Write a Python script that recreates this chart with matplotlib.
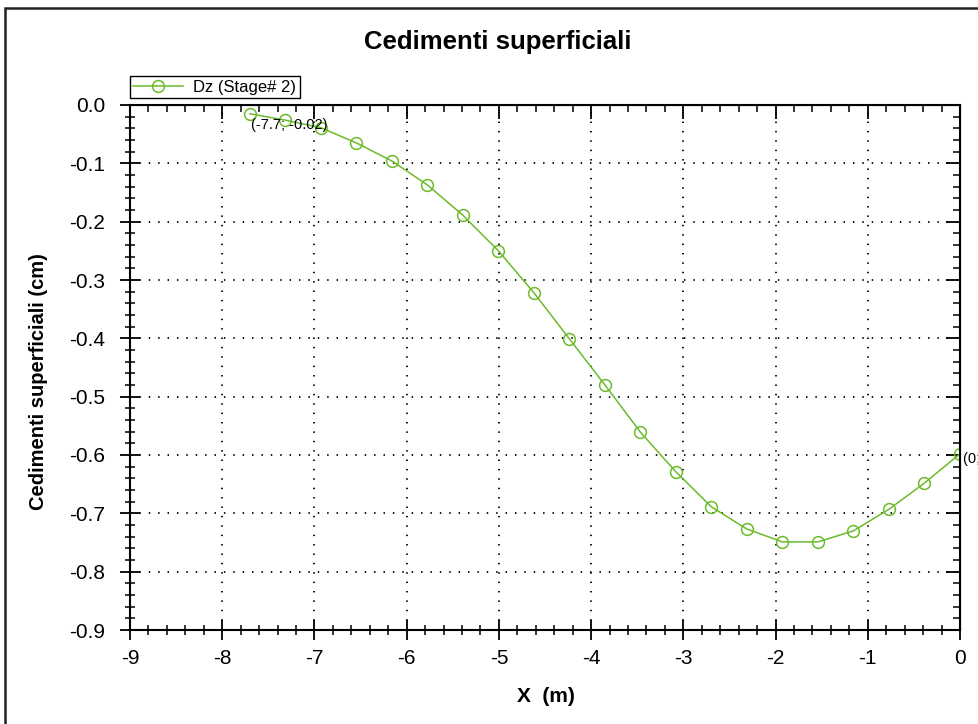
import matplotlib
matplotlib.use("Agg")
import matplotlib.pyplot as plt
from matplotlib.patches import Rectangle
from matplotlib.ticker import MultipleLocator

plt.rcParams["font.family"] = ["Liberation Sans", "DejaVu Sans"]

# Dati : cedimenti superficiali Dz (Stage# 2)
x_m = [-7.7, -7.315, -6.93, -6.545, -6.16, -5.775, -5.39, -5.005, -4.62, -4.235,
       -3.85, -3.465, -3.08, -2.695, -2.31, -1.925, -1.54, -1.155, -0.77, -0.385, 0.0]
dz_cm = [-0.015, -0.026, -0.039, -0.065, -0.096, -0.137, -0.189, -0.250, -0.322, -0.401,
         -0.480, -0.561, -0.629, -0.689, -0.727, -0.749, -0.749, -0.730, -0.693, -0.648, -0.598]
serie = "Dz (Stage# 2)"
verde = "#6cbb2a"

W, H = 979, 724
fig = plt.figure(figsize=(W / 100, H / 100), dpi=100)
ax = fig.add_axes([130 / W, 1 - 630 / H, 830 / W, 525 / H])

# cornice esterna (visibile solo a sinistra e in alto)
fig.patches.append(Rectangle((5 / W, -0.05), 1.1, 1 - 8 / H + 0.05,
                             transform=fig.transFigure, fill=False,
                             edgecolor="#222222", linewidth=1.8, clip_on=False))

ax.plot(x_m, dz_cm, color=verde, lw=1.1, marker="o", ms=8.5,
        mfc="none", mec=verde, mew=1.1, label=serie)

ax.annotate("(-7.7; -0.02)", (x_m[0], dz_cm[0]), xytext=(1, -8),
            textcoords="offset points", fontsize=10.5, va="center", ha="left")
# come nel riferimento, l'etichetta dell'ultimo punto è tagliata dal bordo
ax.annotate("(0; -0.6)", (x_m[-1], dz_cm[-1]), xytext=(2, -4),
            textcoords="offset points", fontsize=10.5, va="center", ha="left",
            annotation_clip=False)

ax.set_xlim(-9, 0)
ax.set_ylim(-0.9, 0.0)
ax.xaxis.set_major_locator(MultipleLocator(1))
ax.xaxis.set_minor_locator(MultipleLocator(0.2))
ax.yaxis.set_major_locator(MultipleLocator(0.1))
ax.yaxis.set_minor_locator(MultipleLocator(0.02))
ax.yaxis.set_major_formatter(lambda v, p: f"{v:.1f}" if abs(v) > 1e-9 else "0.0")
ax.xaxis.set_major_formatter(lambda v, p: f"{v:.0f}")

ax.tick_params(which="major", direction="inout", length=14, width=1.3, labelsize=15)
ax.tick_params(which="minor", direction="inout", length=6.5, width=1.1)
ax.tick_params(axis="x", which="major", pad=7)
ax.tick_params(axis="y", which="major", pad=11)

for s in ax.spines.values():
    s.set_linewidth(1.5)

ax.grid(True, which="major", color="black", linestyle=(0, (0.8, 4.4)), lw=1.3)

# assi secondari: tacche verso l'interno in alto e a destra
top = ax.secondary_xaxis("top")
top.xaxis.set_major_locator(MultipleLocator(1))
top.xaxis.set_minor_locator(MultipleLocator(0.2))
top.tick_params(which="major", direction="in", length=10, width=1.3, labeltop=False)
top.tick_params(which="minor", direction="in", length=5, width=1.1)
right = ax.secondary_yaxis("right")
right.yaxis.set_major_locator(MultipleLocator(0.1))
right.yaxis.set_minor_locator(MultipleLocator(0.02))
right.tick_params(which="major", direction="in", length=10, width=1.3, labelright=False)
right.tick_params(which="minor", direction="in", length=5, width=1.1)

fig.text(498 / W, 1 - 42 / H, "Cedimenti superficiali", ha="center", va="center",
         fontsize=18.5, fontweight="bold")
fig.text(39 / W, 1 - 382 / H, "Cedimenti superficiali (cm)", ha="center", va="center",
         rotation=90, fontsize=14.5, fontweight="bold")
fig.text(546 / W, 1 - 697 / H, "X  (m)", ha="center", va="center",
         fontsize=15, fontweight="bold")

fig.legend(loc="lower left", bbox_to_anchor=(130 / W, 1 - 98 / H), fontsize=12,
           frameon=True, fancybox=False, edgecolor="black", framealpha=1,
           borderpad=0.2, handlelength=3.0, handletextpad=0.6, borderaxespad=0)

fig.savefig("out.png", dpi=100)
